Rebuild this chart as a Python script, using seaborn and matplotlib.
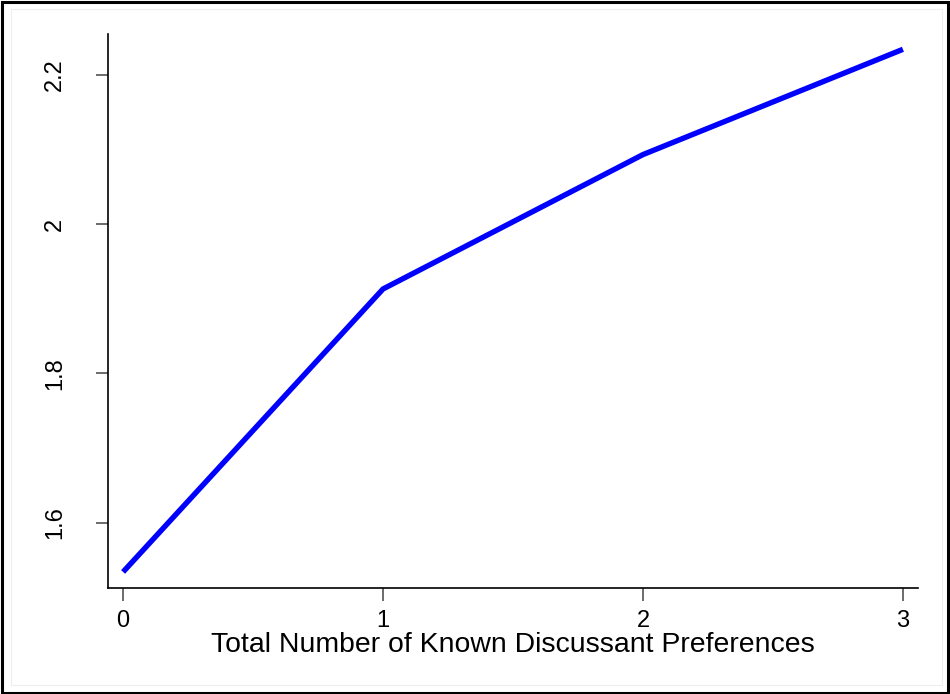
import matplotlib
matplotlib.use("Agg")
import matplotlib.pyplot as plt
import seaborn as sns
import pandas as pd
from matplotlib.patches import Rectangle

# Predicted values by number of known discussant preferences
known_prefs = [0, 1, 2, 3]
predicted = [1.534, 1.913, 2.093, 2.234]
x_ticks = [0, 1, 2, 3]
y_ticks = [1.6, 1.8, 2.0, 2.2]
y_tick_labels = ["1.6", "1.8", "2", "2.2"]
x_label = "Total Number of Known Discussant Preferences"

sns.set_theme(style="white")
plt.rcParams["font.family"] = ["Liberation Sans", "DejaVu Sans"]
plt.rcParams["text.color"] = "black"
plt.rcParams["axes.labelcolor"] = "black"

df = pd.DataFrame({"known": known_prefs, "pred": predicted})

fig = plt.figure(figsize=(9.5, 6.94), dpi=100)
fig.patch.set_facecolor("white")
ax = fig.add_axes([108 / 950, 106 / 694, 810 / 950, 554 / 694])

sns.lineplot(data=df, x="known", y="pred", ax=ax, color="#0000ff",
             linewidth=3.9, solid_capstyle="butt")

ax.set_xlim(-0.058, 3.058)
ax.set_ylim(1.5125, 2.2545)
ax.set_xticks(x_ticks)
ax.set_xticklabels([str(t) for t in x_ticks], fontsize=17)
ax.set_yticks(y_ticks)
ax.set_yticklabels(y_tick_labels, fontsize=17, rotation=90, va="center")
ax.set_xlabel(x_label, fontsize=20.4, labelpad=0, color="black")
ax.set_ylabel("")

for side in ("top", "right"):
    ax.spines[side].set_visible(False)
for side in ("left", "bottom"):
    ax.spines[side].set_color("black")
    ax.spines[side].set_linewidth(1.2)

ax.tick_params(axis="both", which="major", direction="out", length=9,
               width=1.1, color="#444444", labelcolor="black", bottom=True,
               left=True, pad=7)
ax.tick_params(axis="y", pad=21)

# outer frame and faint inner plot-region outline
fig.patches.append(Rectangle((1.5 / 950, 1.5 / 694), 946.5 / 950, 690.5 / 694,
                             transform=fig.transFigure, fill=False,
                             edgecolor="black", linewidth=2.2, zorder=10))
fig.patches.append(Rectangle((11 / 950, 9 / 694), 931 / 950, 676 / 694,
                             transform=fig.transFigure, fill=False,
                             edgecolor="#eeeeee", linewidth=0.8, zorder=9))

fig.savefig("out.png", dpi=100, facecolor="white")
